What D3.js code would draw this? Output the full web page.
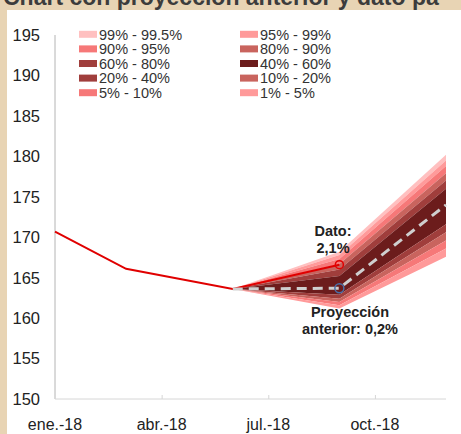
<!DOCTYPE html>
<html>
<head>
<meta charset="utf-8">
<script src="https://cdnjs.cloudflare.com/ajax/libs/d3/7.8.5/d3.min.js"></script>
<style>
body { margin: 0; background: #e8d4b4; }
svg { display: block; font-family: "Liberation Sans", Arial, sans-serif; }
</style>
</head>
<body>
<script>
var tickMonths = [0, 3, 6, 9]
var tickLabels = ['ene.-18', 'abr.-18', 'jul.-18', 'oct.-18']
var yTicks = [150, 155, 160, 165, 170, 175, 180, 185, 190, 195]

var obsMonth = [0, 2, 5, 8]
var obsValue = [170.7, 166.1, 163.6, 166.6]

var projMonth = [5, 8, 11]
var projValue = [163.6, 163.7, 174.0]

// percentiles of the fan, one value per projMonth
var q1   = [163.6, 161.2, 167.6]
var q5   = [163.6, 161.6, 168.6]
var q10  = [163.6, 162.0, 169.6]
var q20  = [163.6, 162.4, 170.6]
var q40  = [163.6, 162.9, 171.6]
var q60  = [163.6, 165.2, 176.0]
var q80  = [163.6, 166.0, 177.0]
var q90  = [163.6, 166.7, 177.9]
var q95  = [163.6, 167.3, 178.8]
var q99  = [163.6, 167.8, 179.5]
var q995 = [163.6, 168.2, 180.2]

var bandLabels = ['99% - 99.5%', '95% - 99%', '90% - 95%', '80% - 90%', '60% - 80%',
                  '40% - 60%', '20% - 40%', '10% - 20%', '5% - 10%', '1% - 5%']
var bandColors = ['#ffc0c0', '#ff9a9a', '#f67878', '#c9645e', '#a03e3c',
                  '#6c1c1c', '#a03e3c', '#c9645e', '#f67878', '#ff9a9a']
var bandLo = [q99, q95, q90, q80, q60, q40, q20, q10, q5, q1]
var bandHi = [q995, q99, q95, q90, q80, q60, q40, q20, q10, q5]

var W = 461, H = 434
var svg = d3.select('body').append('svg').attr('width', W).attr('height', H)

svg.append('rect').attr('width', W).attr('height', H).style('fill', '#e8d4b4')
svg.append('rect').attr('x', 7).attr('y', 10).attr('width', W - 7).attr('height', H - 10).style('fill', '#fff')

// title, cut by the top of the picture as in the original
svg.append('text').attr('x', 3).attr('y', 5)
    .style('font-size', '23px').style('font-weight', 'bold').style('fill', '#3c3c3c')
    .text('Chart con proyección anterior y dato pa')

var x = d3.scaleLinear().domain([0, 11]).range([55, 446])
var y = d3.scaleLinear().domain([150, 195]).range([399, 35])

// y axis
svg.append('line').attr('x1', 55).attr('x2', 55).attr('y1', y(195)).attr('y2', y(150))
    .style('stroke', '#b4b4b4')
svg.append('g').selectAll('text').data(yTicks).join('text')
    .attr('x', 40).attr('y', function(d){ return y(d) })
    .attr('dy', '0.36em').attr('text-anchor', 'end')
    .style('font-size', '16.5px').style('fill', '#222')
    .text(function(d){ return d })

// x axis
var xAxis = d3.axisBottom(x).tickValues(tickMonths.slice(1)).tickSize(-4).tickFormat('')
var gx = svg.append('g').attr('transform', 'translate(0,' + y(150) + ')').call(xAxis)
gx.select('.domain').attr('d', 'M' + x(0) + ',0H' + x(11)).style('stroke', '#d6d6d6')
gx.selectAll('.tick line').style('stroke', '#d6d6d6')
svg.append('g').selectAll('text').data(tickMonths).join('text')
    .attr('x', function(d){ return x(d) }).attr('y', 430)
    .attr('text-anchor', 'middle')
    .style('font-size', '16px').style('fill', '#222')
    .text(function(d, i){ return tickLabels[i] })

// fan
bandLabels.forEach(function(lab, i){
  var area = d3.area()
      .x(function(d, j){ return x(projMonth[j]) })
      .y0(function(d, j){ return y(bandLo[i][j]) })
      .y1(function(d, j){ return y(bandHi[i][j]) })
  svg.append('path').datum(projMonth).attr('d', area).style('fill', bandColors[i])
})

// observed
var line = d3.line().x(function(d){ return x(d[0]) }).y(function(d){ return y(d[1]) })
svg.append('path').datum(d3.zip(obsMonth, obsValue)).attr('d', line)
    .style('fill', 'none').style('stroke', '#e00000').style('stroke-width', 2)

// previous projection
svg.append('path').datum(d3.zip(projMonth, projValue)).attr('d', line)
    .style('fill', 'none').style('stroke', '#cfcfcf').style('stroke-width', 3)
    .style('stroke-dasharray', '10,6')

svg.append('circle').attr('cx', x(8)).attr('cy', y(obsValue[3])).attr('r', 4)
    .style('fill', 'none').style('stroke', '#e00000').style('stroke-width', 1.5)
svg.append('circle').attr('cx', x(8)).attr('cy', y(projValue[1])).attr('r', 4.5)
    .style('fill', 'none').style('stroke', '#4a6fa8').style('stroke-width', 1.5)

function note(lines, cx, cy){
  svg.append('g').selectAll('text').data(lines).join('text')
      .attr('x', cx).attr('y', function(d, i){ return cy + i * 17 })
      .attr('text-anchor', 'middle')
      .style('font-size', '14.5px').style('font-weight', 'bold').style('fill', '#222')
      .text(function(d){ return d })
}
note(['Dato:', '2,1%'], 333, 236)
note(['Proyección', 'anterior: 0,2%'], 350, 317)

// legend
var leg = svg.append('g').selectAll('g').data(bandLabels).join('g')
    .attr('transform', function(d, i){ return 'translate(' + (i % 2 ? 240 : 79) + ',' + (34.3 + Math.floor(i / 2) * 14.6) + ')' })
leg.append('rect').attr('y', -3.5).attr('width', 18).attr('height', 7)
    .style('fill', function(d, i){ return bandColors[i] })
leg.append('text').attr('x', 20).attr('dy', '0.36em')
    .style('font-size', '14.5px').style('fill', '#333')
    .text(function(d){ return d })
</script>
</body>
</html>
